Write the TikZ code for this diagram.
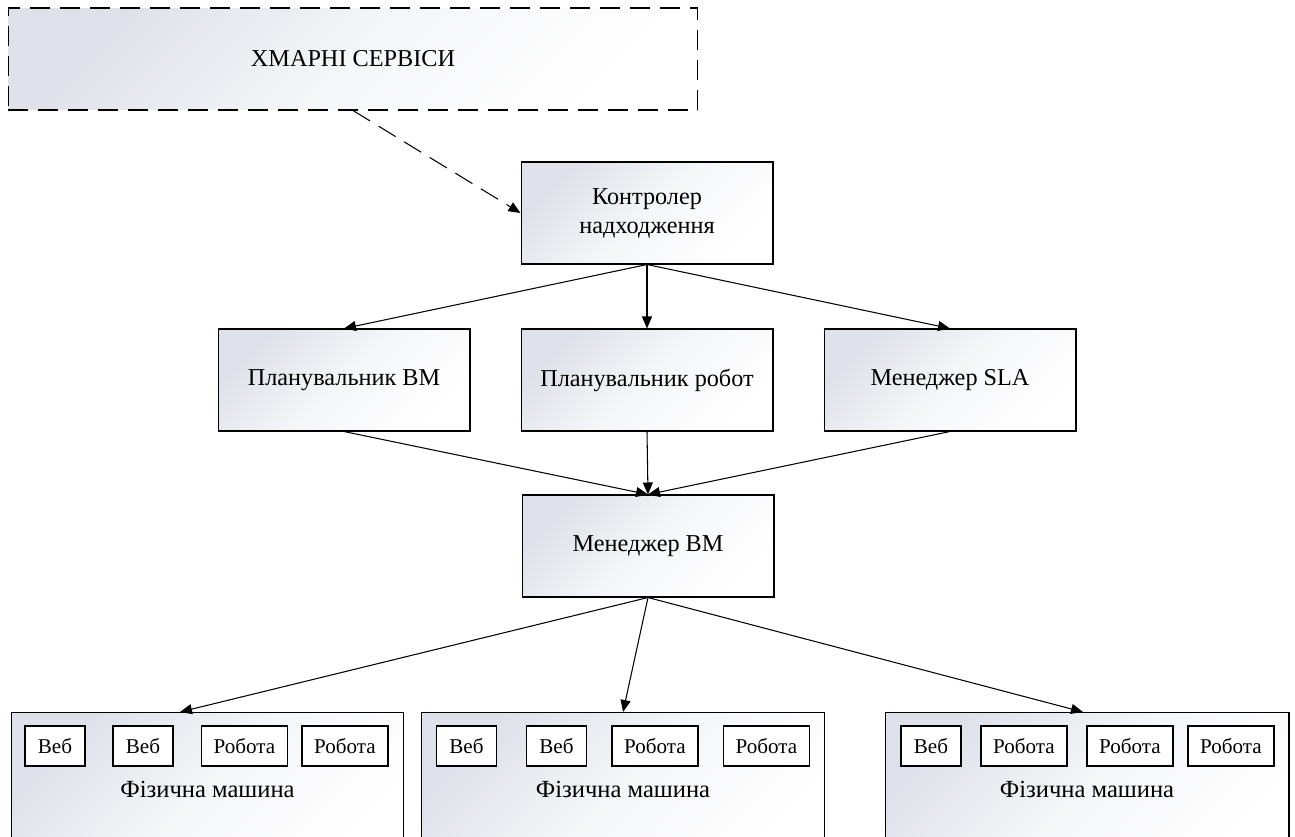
\documentclass[tikz,border=0pt]{standalone}
\usepackage{fontspec}
\setmainfont{Liberation Serif}
\usetikzlibrary{arrows.meta}
\definecolor{gradc}{RGB}{222,225,233}
\begin{document}
\begin{tikzpicture}[x=0.02cm,y=-0.02cm,
    box/.style={draw,line width=0.6pt,top color=gradc,bottom color=white,middle color=gradc!30!white,shading angle=45,
        align=center,inner sep=0pt,font=\fontsize{13.8}{16.5}\selectfont},
    mainbox/.style={box,minimum width=5.04cm,minimum height=2.04cm},
    vmbox/.style={draw,line width=0.6pt,fill=white,minimum height=0.8cm,inner sep=0pt,
        font=\fontsize{12}{14}\selectfont},
    arr/.style={-{Triangle[length=0.24cm,width=0.2cm]},line width=0.6pt}]
    \clip (0,0) rectangle (1295,836);
    \fill[white] (0,0) rectangle (1295,836);

    \node[box,dash pattern=on 0.4cm off 0.2cm,minimum width=13.8cm,minimum height=2.04cm] (cloud) at (353,59) {ХМАРНІ СЕРВІСИ};
    \node[mainbox] (ctrl) at (647,213) {Контролер\\надходження};
    \node[mainbox] (plvm) at (344,380) {Планувальник ВМ};
    \node[mainbox] (plrob) at (647,380) {Планувальник робот};
    \node[mainbox] (sla) at (950,380) {Менеджер SLA};
    \node[mainbox] (mvm) at (648,546) {Менеджер ВМ};

    \node[box,anchor=north,minimum width=7.86cm,minimum height=3cm] (pm1) at (207.5,712) {};
    \node[box,anchor=north,minimum width=8.08cm,minimum height=3cm] (pm2) at (623,712) {};
    \node[box,anchor=north,minimum width=8.08cm,minimum height=3cm] (pm3) at (1087,712) {};

    \node[font=\fontsize{14}{16}\selectfont] (pm1t) at (207.5,789) {Фізична машина};
    \node[font=\fontsize{14}{16}\selectfont] (pm2t) at (623,789) {Фізична машина};
    \node[font=\fontsize{14}{16}\selectfont] (pm3t) at (1087,789) {Фізична машина};

    \node[vmbox,minimum width=1.2cm] (w11) at (55,746) {Веб};
    \node[vmbox,minimum width=1.2cm] (w12) at (143,746) {Веб};
    \node[vmbox,minimum width=1.72cm] (r13) at (244.5,746) {Робота};
    \node[vmbox,minimum width=1.72cm] (r14) at (345,746) {Робота};

    \node[vmbox,minimum width=1.2cm] (w21) at (466.5,746) {Веб};
    \node[vmbox,minimum width=1.2cm] (w22) at (556.5,746) {Веб};
    \node[vmbox,minimum width=1.72cm] (r23) at (655,746) {Робота};
    \node[vmbox,minimum width=1.72cm] (r24) at (766.5,746) {Робота};

    \node[vmbox,minimum width=1.2cm] (w31) at (931,746) {Веб};
    \node[vmbox,minimum width=1.72cm] (r32) at (1024,746) {Робота};
    \node[vmbox,minimum width=1.72cm] (r33) at (1130,746) {Робота};
    \node[vmbox,minimum width=1.72cm] (r34) at (1231,746) {Робота};

    \draw[arr,dash pattern=on 0.4cm off 0.2cm] (cloud.south) -- (ctrl.west);

    \draw[arr] (ctrl.south) -- (plvm.north);
    \draw[arr] (ctrl.south) -- (plrob.north);
    \draw[arr] (ctrl.south) -- (sla.north);

    \draw[arr] (plvm.south) -- (mvm.north);
    \draw[arr] (plrob.south) -- (mvm.north);
    \draw[arr] (sla.south) -- (mvm.north);

    \draw[arr] (mvm.south) -- ([xshift=-0.55cm]pm1.north);
    \draw[arr] (mvm.south) -- (pm2.north);
    \draw[arr] (mvm.south) -- ([xshift=-0.08cm]pm3.north);
\end{tikzpicture}
\end{document}
